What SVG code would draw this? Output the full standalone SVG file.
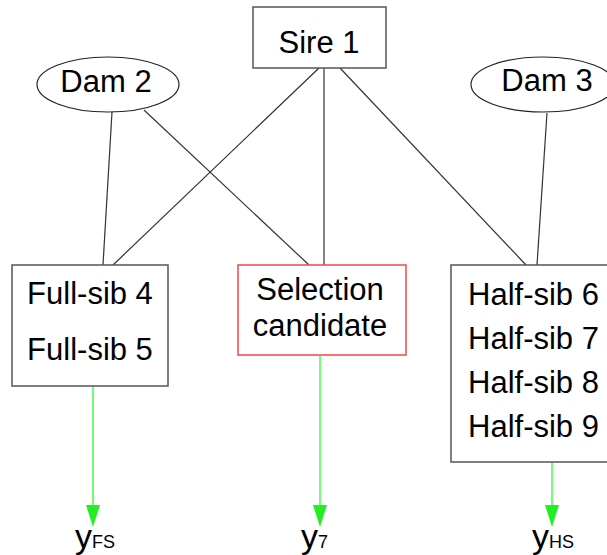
<svg xmlns="http://www.w3.org/2000/svg" width="607" height="555" viewBox="0 0 607 555">
<defs>
<style>
.box{fill:#fff;stroke:#555;stroke-width:1.5}
.sel{fill:#fff;stroke:#f04848;stroke-width:1.5}
.ell{fill:#fff;stroke:#222;stroke-width:1.2}
.t{font-family:"Liberation Sans",Arial,sans-serif;font-size:31px;fill:#000}
.c{text-anchor:middle}
.ln{stroke:#333;stroke-width:1.2;fill:none}
.gr{stroke:#44ff44;stroke-width:1.5;fill:none}
.ah{fill:#22ee22}
.y{font-family:"Liberation Sans",Arial,sans-serif;font-size:34px;fill:#000}
.sub{font-size:18px}
</style>
</defs>
<g id="connectors">
<line class="ln" x1="112" y1="112" x2="103" y2="265"/>
<line class="ln" x1="144" y1="110" x2="309" y2="265"/>
<line class="ln" x1="319" y1="68" x2="113" y2="265"/>
<line class="ln" x1="324" y1="68" x2="324" y2="265"/>
<line class="ln" x1="340" y1="68" x2="526" y2="265"/>
<line class="ln" x1="547" y1="113" x2="537" y2="265"/>
<line class="gr" x1="93" y1="386" x2="93" y2="506"/>
<path class="ah" d="M86,505 L100,505 L93,527 Z"/>
<line class="gr" x1="320" y1="356" x2="320" y2="506"/>
<path class="ah" d="M313,505 L327,505 L320,527 Z"/>
<line class="gr" x1="552" y1="462" x2="552" y2="506"/>
<path class="ah" d="M545,505 L559,505 L552,527 Z"/>
</g>
<g id="sire1">
<rect class="box" x="253" y="7" width="133" height="61"/>
<text class="t c" x="319" y="53">Sire 1</text>
</g>
<g id="dam2">
<ellipse class="ell" cx="108" cy="84.5" rx="71" ry="27.5"/>
<text class="t c" x="106" y="92">Dam 2</text>
</g>
<g id="dam3">
<ellipse class="ell" cx="543" cy="84.5" rx="72" ry="27.5"/>
<text class="t c" x="547" y="91">Dam 3</text>
</g>
<g id="fullsib">
<rect class="box" x="12" y="265" width="156" height="121"/>
<text class="t c" x="90" y="304">Full-sib 4</text>
<text class="t c" x="90" y="360">Full-sib 5</text>
</g>
<g id="candidate">
<rect class="sel" x="238" y="265" width="168" height="90"/>
<text class="t c" x="320" y="300">Selection</text>
<text class="t c" x="320" y="336">candidate</text>
</g>
<g id="halfsib">
<rect class="box" x="451" y="265" width="170" height="197"/>
<text class="t" x="468" y="305">Half-sib 6</text>
<text class="t" x="468" y="349">Half-sib 7</text>
<text class="t" x="468" y="393">Half-sib 8</text>
<text class="t" x="468" y="437">Half-sib 9</text>
</g>
<g id="yFS">
<text class="y" x="75" y="548">y<tspan class="sub">FS</tspan></text>
</g>
<g id="y7">
<text class="y" x="301" y="548">y<tspan class="sub">7</tspan></text>
</g>
<g id="yHS">
<text class="y" x="532" y="548">y<tspan class="sub">HS</tspan></text>
</g>
</svg>
